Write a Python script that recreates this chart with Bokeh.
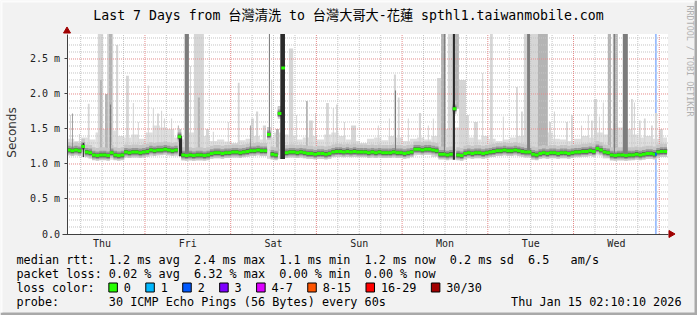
import math
import re
from bokeh.plotting import figure
from bokeh.models import Range1d, LinearAxis, FixedTicker, Label
from bokeh.embed import file_html
from bokeh.resources import INLINE

# ---------------- data ----------------
# time axis: hours since Thu Jan 08 00:00; graph covers Thu Jan 08 02:10:10 -> Thu Jan 15 02:10:10
t_start = 2 + 10 / 60 + 10 / 3600
t_end = t_start + 168
y_max = 2.857  # ms, top of the graph

# hourly median rtt (ms)
median_ms = [
    1.20, 1.19, 1.20, 1.19, 1.25, 1.17, 1.16, 1.13, 1.12, 1.13, 1.13, 1.12,
    1.16, 1.13, 1.12, 1.13, 1.17, 1.16, 1.17, 1.17, 1.16, 1.17, 1.18, 1.20,
    1.19, 1.20, 1.20, 1.21, 1.20, 1.19, 1.20, 1.39, 1.13, 1.12, 1.13, 1.12,
    1.13, 1.13, 1.12, 1.13, 1.15, 1.16, 1.16, 1.15, 1.16, 1.16, 1.17, 1.17,
    1.16, 1.17, 1.18, 1.19, 1.19, 1.20, 1.19, 1.19, 1.42, 1.14, 1.13, 1.72,
    2.37, 1.16, 1.17, 1.17, 1.16, 1.17, 1.16, 1.15, 1.15, 1.14, 1.15, 1.15,
    1.14, 1.15, 1.17, 1.18, 1.18, 1.17, 1.18, 1.17, 1.18, 1.17, 1.17, 1.17,
    1.16, 1.17, 1.16, 1.17, 1.16, 1.16, 1.16, 1.17, 1.16, 1.16, 1.15, 1.16,
    1.17, 1.21, 1.21, 1.20, 1.21, 1.21, 1.20, 1.19, 1.14, 1.14, 1.13, 1.14,
    1.79, 1.13, 1.12, 1.15, 1.16, 1.15, 1.16, 1.16, 1.15, 1.16, 1.17, 1.18,
    1.19, 1.19, 1.20, 1.19, 1.19, 1.20, 1.19, 1.18, 1.17, 1.17, 1.14, 1.13,
    1.15, 1.16, 1.15, 1.16, 1.16, 1.15, 1.16, 1.16, 1.15, 1.16, 1.17, 1.17,
    1.18, 1.18, 1.19, 1.18, 1.22, 1.20, 1.17, 1.16, 1.13, 1.12, 1.13, 1.13,
    1.12, 1.13, 1.13, 1.14, 1.13, 1.14, 1.15, 1.15, 1.14, 1.17, 1.18, 1.18,
]

# 2-hourly smoke envelope (typical max / min ping, ms)
smoke_top = [
    1.36, 1.33, 1.38, 1.35, 1.45, 1.50, 1.48, 1.40, 1.38, 1.42, 1.36, 1.45,
    1.55, 1.52, 1.50, 1.38, 1.35, 1.45, 1.48, 1.40, 1.33, 1.35, 1.32, 1.30,
    1.34, 1.36, 1.40, 1.35, 1.38, 1.45, 1.42, 1.40, 1.35, 1.38, 1.40, 1.35,
    1.42, 1.45, 1.40, 1.35, 1.33, 1.30, 1.36, 1.38, 1.34, 1.40, 1.38, 1.33,
    1.36, 1.38, 1.35, 1.40, 1.48, 1.50, 1.52, 1.45, 1.38, 1.35, 1.40, 1.36,
    1.33, 1.35, 1.38, 1.40, 1.50, 1.55, 1.52, 1.45, 1.36, 1.35, 1.33, 1.36,
    1.40, 1.38, 1.45, 1.42, 1.50, 1.52, 1.50, 1.42, 1.38, 1.40, 1.36, 1.38,
]
smoke_min = [
    1.12, 1.12, 1.10, 1.07, 1.06, 1.06, 1.06, 1.06, 1.09, 1.09, 1.09, 1.11,
    1.12, 1.13, 1.12, 1.11, 1.05, 1.05, 1.05, 1.06, 1.08, 1.08, 1.09, 1.09,
    1.10, 1.11, 1.12, 1.11, 1.07, 1.07, 1.09, 1.09, 1.09, 1.08, 1.07, 1.07,
    1.08, 1.10, 1.10, 1.10, 1.10, 1.10, 1.09, 1.09, 1.09, 1.09, 1.09, 1.08,
    1.12, 1.13, 1.13, 1.10, 1.07, 1.07, 1.06, 1.06, 1.08, 1.08, 1.08, 1.10,
    1.12, 1.12, 1.12, 1.11, 1.09, 1.06, 1.08, 1.08, 1.08, 1.08, 1.09, 1.10,
    1.11, 1.12, 1.12, 1.08, 1.05, 1.05, 1.05, 1.06, 1.06, 1.07, 1.08, 1.10,
]

# smoke spikes: (start hour, end hour, top ms) by ping density
light_spikes = [
    (3.0, 3.3, 1.70), (5.5, 5.8, 1.43), (8.0, 8.5, 1.86), (10.8, 12.3, 3.2),
    (13.4, 15.1, 3.2), (15.9, 16.5, 2.70), (18.7, 19.5, 2.26), (20.6, 20.9, 1.87),
    (22.0, 22.3, 1.60), (24.8, 25.1, 2.12), (26.2, 26.5, 1.80), (27.4, 27.9, 1.72),
    (28.5, 28.8, 1.76), (29.3, 29.6, 1.65), (31.3, 31.6, 1.65), (34.9, 35.2, 3.2),
    (36.6, 36.9, 2.40), (37.7, 40.5, 3.2), (41.1, 41.9, 1.50), (43.0, 43.3, 1.46),
    (47.2, 47.5, 1.60), (50.0, 50.5, 2.16), (53.7, 54.5, 1.65), (55.1, 55.7, 1.75),
    (57.0, 57.9, 1.55), (59.3, 59.6, 2.20), (64.3, 65.5, 2.65), (66.3, 66.6, 1.70),
    (69.9, 71.0, 1.62), (71.6, 71.9, 1.73), (74.7, 75.5, 1.87), (76.6, 76.9, 1.80),
    (77.5, 78.0, 1.85), (79.7, 80.0, 1.60), (81.7, 83.1, 1.55), (89.2, 89.5, 1.55),
    (92.3, 92.6, 1.65), (93.7, 94.3, 2.28), (94.8, 95.3, 1.95), (97.6, 97.9, 1.65),
    (100.7, 101.3, 1.73), (103.2, 103.5, 1.55), (104.6, 104.9, 1.65), (105.8, 107.4, 2.23),
    (108.8, 110.2, 3.2), (111.9, 113.9, 2.20), (113.9, 114.7, 1.70), (116.1, 117.2, 1.60),
    (118.4, 118.7, 2.30), (120.6, 121.4, 3.2), (124.2, 124.5, 1.68), (127.9, 128.4, 2.10),
    (129.3, 129.8, 1.75), (130.1, 134.0, 3.2), (137.1, 137.7, 1.60), (138.5, 138.8, 1.75),
    (141.9, 142.4, 1.60), (143.3, 143.8, 1.70), (146.1, 146.4, 1.55), (148.0, 148.3, 1.70),
    (148.9, 149.4, 1.62), (149.7, 150.6, 1.93), (151.1, 151.4, 1.68), (152.2, 152.5, 1.88),
    (160.1, 160.6, 1.93), (160.9, 161.2, 1.88), (162.3, 162.8, 1.62), (163.7, 164.2, 1.65),
    (165.7, 166.2, 1.55), (166.8, 167.4, 1.73), (167.9, 169.0, 1.50),
]
mid_spikes = [
    (11.4, 12.0, 2.20), (12.8, 13.6, 2.00), (13.9, 14.8, 3.2), (33.2, 33.5, 1.55),
    (38.8, 39.4, 1.95), (60.7, 61.5, 1.50), (69.1, 69.6, 1.90), (106.9, 108.3, 3.2),
    (110.8, 111.9, 3.2), (134.0, 136.8, 3.2), (153.6, 154.5, 3.2), (155.0, 156.4, 3.2),
]
dark_spikes = [
    (3.6, 3.8, 1.72), (14.2, 14.5, 1.85), (35.2, 36.3, 3.2), (53.4, 53.6, 1.55),
    (58.7, 59.0, 3.2), (94.0, 94.3, 2.05), (107.7, 108.0, 3.2), (131.0, 131.8, 3.2),
    (155.3, 155.6, 3.2), (157.8, 159.2, 3.2),
]
black_spikes = [
    (6.6, 6.9, 1.30), (33.5, 34.4, 1.40), (61.9, 63.2, 3.2), (110.2, 110.8, 3.2),
]

# packet loss events
loss_start = [166.8]
loss_end = [167.3]
loss_count = [2]

# axes / legend text
day_ticks = [12, 36, 60, 84, 108, 132, 156]
day_labels = ["Thu", "Fri", "Sat", "Sun", "Mon", "Tue", "Wed"]
y_ticks = [0, 0.5, 1, 1.5, 2, 2.5]
y_labels = ["0.0", "0.5 m", "1.0 m", "1.5 m", "2.0 m", "2.5 m"]
loss_labels = ["0", "1", "2", "3", "4-7", "8-15", "16-29", "30/30"]
loss_colors = ["#26ff00", "#00b8ff", "#0059ff", "#7e00ff", "#dd00ff", "#ff5500", "#ff0000", "#a10000"]
rtt_stats = ["1.2 ms avg", "2.4 ms max", "1.1 ms min", "1.2 ms now", "0.2 ms sd", "6.5   am/s"]
loss_stats = ["0.02 % avg", "6.32 % max", "0.00 % min", "0.00 % now"]
title_text = "Last 7 Days from 台灣清洗 to 台灣大哥大-花蓮 spthl1.taiwanmobile.com"
probe_text = "30 ICMP Echo Pings (56 Bytes) every 60s"
stamp_text = "Thu Jan 15 02:10:10 2026"

# ---------------- layout helpers (pixel -> data) ----------------
X0_PX, X1_PX = 66.5, 666.5
Y0_PX, Y1_PX = 233.5, 33.5
W, H = 697, 315


def X(px):
    return t_start + (px - X0_PX) * (t_end - t_start) / (X1_PX - X0_PX)


def Y(py):
    return (Y0_PX - py) * y_max / (Y0_PX - Y1_PX)


MONO = "DejaVu Sans Mono"
TITLE_FONT = "DejaVu Sans Mono, Noto Sans CJK TC"

p = figure(width=W, height=H, x_range=Range1d(X(0), X(W)), y_range=Range1d(Y(H), Y(0)),
           output_backend="svg", toolbar_location=None,
           x_axis_location=None, y_axis_location=None, min_border=0,
           background_fill_color="#f2f2f2", border_fill_color="#f2f2f2",
           outline_line_color=None)
p.grid.visible = False

# outer 3d frame
p.quad(left=[X(W - 3)], right=[X(W)], bottom=[Y(H)], top=[Y(0)], fill_color="#a9a9a9", line_color=None)
p.quad(left=[X(0)], right=[X(W)], bottom=[Y(H)], top=[Y(H - 3)], fill_color="#a9a9a9", line_color=None)
p.quad(left=[X(0)], right=[X(W - 3)], bottom=[Y(2)], top=[Y(0)], fill_color="#fcfcfc", line_color=None)
p.quad(left=[X(0)], right=[X(2)], bottom=[Y(H - 3)], top=[Y(0)], fill_color="#fcfcfc", line_color=None)

# canvas
p.quad(left=[t_start], right=[X(667.5)], bottom=[0], top=[y_max], fill_color="white", line_color=None)


def lighten(hexcol, f):
    r, g, b = int(hexcol[1:3], 16), int(hexcol[3:5], 16), int(hexcol[5:7], 16)
    r, g, b = [int(c + (255 - c) * f) for c in (r, g, b)]
    return "#%02x%02x%02x" % (r, g, b)


# loss bars (full height, light loss colour)
p.quad(left=loss_start, right=loss_end, bottom=0, top=y_max,
       fill_color=[lighten(loss_colors[min(c, 7)], 0.6) for c in loss_count], line_color=None)

# base smoke (2-hourly envelope)
blk_left = [t_start + 2 * j for j in range(len(smoke_top))]
p.quad(left=blk_left, right=[b + 2.02 for b in blk_left], bottom=smoke_min[:len(smoke_top)],
       top=smoke_top, fill_color="#dedede", line_color=None)

n = len(median_ms)
hr_left = [t_start + i for i in range(n)]
hr_right = [t_start + i + 1.02 for i in range(n)]


def med_at(t):
    i = int(t - t_start)
    return median_ms[max(0, min(n - 1, i))]


def min_at(t):
    j = int((t - t_start) / 2)
    return smoke_min[max(0, min(len(smoke_min) - 1, j))]


def spikes(lst, color, from_min=False):
    if not lst:
        return
    p.quad(left=[s[0] for s in lst], right=[s[1] for s in lst],
           bottom=[min_at(s[0]) if from_min else med_at(s[0]) for s in lst],
           top=[min(s[2], y_max) for s in lst], fill_color=color, line_color=None)


spikes(light_spikes, "#d6d6d6")
spikes(mid_spikes, "#b4b4b4")

# grid
minor_y = [k / 10 for k in range(1, 29) if k % 5 != 0]
major_y = [t for t in y_ticks if t > 0]
minor_x = [6 * k for k in range(1, 29) if k % 4 != 0 and t_start < 6 * k < t_end]
major_x = [24 * k for k in range(1, 8) if t_start < 24 * k < t_end]
gx1 = X(667.5)
p.segment(x0=[t_start] * len(minor_y), x1=[gx1] * len(minor_y), y0=minor_y, y1=minor_y,
          line_color="#c4c4c4", line_width=1, line_dash="1 1")
p.segment(x0=minor_x, x1=minor_x, y0=[0] * len(minor_x), y1=[y_max] * len(minor_x),
          line_color="#c4c4c4", line_width=1, line_dash="1 1")
p.segment(x0=[t_start] * len(major_y), x1=[gx1] * len(major_y), y0=major_y, y1=major_y,
          line_color="#e58a8a", line_width=1, line_dash="1 1")
p.segment(x0=major_x, x1=major_x, y0=[0] * len(major_x), y1=[y_max] * len(major_x),
          line_color="#e58a8a", line_width=1, line_dash="1 1")

# dense core of the smoke around the median
for lo_off, hi_off, col in [(0.075, 0.11, "#c6c6c6"), (0.05, 0.06, "#989898"), (0.032, 0.03, "#5a5a5a")]:
    p.quad(left=hr_left, right=hr_right, bottom=[m - lo_off for m in median_ms],
           top=[m + hi_off for m in median_ms], fill_color=col, line_color=None)

spikes(dark_spikes, "#7c7c7c")
spikes(black_spikes, "#2a2a2a", from_min=True)

# median line (loss coloured)
p.segment(x0=hr_left, x1=hr_right, y0=median_ms, y1=median_ms, line_color=loss_colors[0],
          line_width=3, line_cap="butt")
p.segment(x0=loss_start, x1=loss_end, y0=[med_at(s) for s in loss_start], y1=[med_at(s) for s in loss_start],
          line_color=[loss_colors[min(c, 7)] for c in loss_count], line_width=3, line_cap="butt")

# axes
yaxis = LinearAxis(fixed_location=t_start, bounds=(0, y_max),
                   ticker=FixedTicker(ticks=y_ticks, minor_ticks=[]),
                   major_label_overrides=dict(zip(y_ticks, y_labels)),
                   axis_line_color="#404040", major_tick_line_color="#404040",
                   major_tick_out=3, major_tick_in=0, minor_tick_line_color=None,
                   major_label_standoff=4, major_label_text_font=MONO,
                   major_label_text_font_size="10px", major_label_text_color="#222222")
p.add_layout(yaxis, "left")
xaxis = LinearAxis(fixed_location=0, bounds=(X(62), X(667.5)),
                   ticker=FixedTicker(ticks=day_ticks, minor_ticks=[]),
                   major_label_overrides=dict(zip(day_ticks, day_labels)),
                   axis_line_color="#404040", major_tick_line_color=None,
                   major_tick_out=0, major_tick_in=0, minor_tick_line_color=None,
                   major_label_standoff=4, major_label_text_font=MONO,
                   major_label_text_font_size="10px", major_label_text_color="#222222")
p.add_layout(xaxis, "below")

# axis arrows
p.scatter(x=[t_start], y=[Y(30.5)], marker="triangle", size=7, fill_color="#a00000", line_color="#a00000")
p.scatter(x=[X(670.5)], y=[0], marker="triangle", angle=-math.pi / 2, size=7,
          fill_color="#a00000", line_color="#a00000")


def lbl(px, py, text, size, font=MONO, align="left", color="#000000", angle=0.0):
    p.add_layout(Label(x=X(px), y=Y(py), text=text, text_font=font, text_font_size="%.2fpx" % size,
                       text_align=align, text_baseline="middle", text_color=color, angle=angle))


lbl(348, 15, title_text, 13.2, font=TITLE_FONT, align="center")
lbl(11, 132, "Seconds", 12, font="DejaVu Sans", align="center", color="#333333", angle=math.pi / 2)
lbl(689, 5, "RRDTOOL / TOBI OETIKER", 8.4, align="left", color="#b0b0b0", angle=-math.pi / 2)

LEG = 11.8
CW = LEG * 0.602
LX = 16


def row(py, s):
    # place each run of text at its monospace column (SVG collapses repeated spaces)
    for m in re.finditer(r"\S+(?: \S+)*", s):
        lbl(LX + m.start() * CW, py, m.group(), LEG)


row(259, "median rtt:  " + "  ".join(rtt_stats))
row(273, "packet loss: " + "  ".join(loss_stats))
row(287, "loss color:")
row(301, "probe:" + " " * 7 + probe_text)
lbl(681, 301, stamp_text, LEG, align="right")

cur = LX + 13 * CW
bl, br, tx = [], [], []
for lab in loss_labels:
    bl.append(X(cur))
    br.append(X(cur + 1.2 * CW))
    tx.append(cur + 2.1 * CW)
    cur = cur + 2.1 * CW + len(lab) * CW + 2.1 * CW
p.quad(left=bl, right=br, bottom=Y(291.5), top=Y(282.5), fill_color=loss_colors, line_color="#000000", line_width=1)
for x, lab in zip(tx, loss_labels):
    lbl(x, 287, lab, LEG)

open("out.html", "w").write(file_html(p, INLINE))
